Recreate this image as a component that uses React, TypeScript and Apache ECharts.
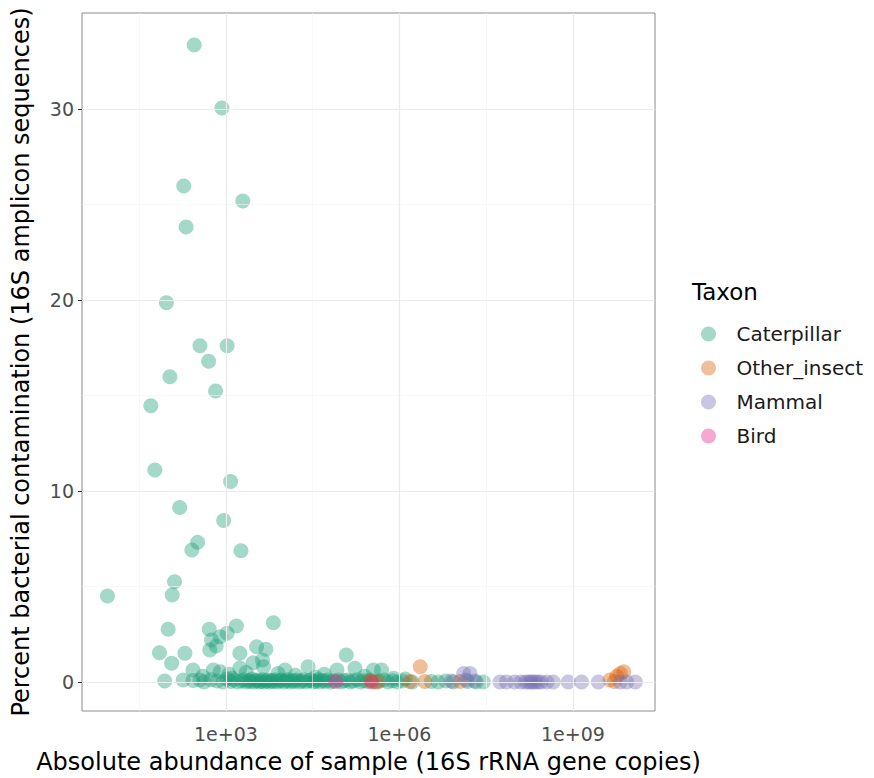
import React, { useEffect, useRef } from "react";
import * as echarts from "echarts";

// x values are log10(absolute abundance), y values are percent contamination
const caterpillarHigh: [number, number][] = [
  [2.45, 33.35], [2.93, 30.05], [2.27, 25.97], [3.29, 25.18], [2.31, 23.82],
  [1.97, 19.86], [2.55, 17.6], [3.02, 17.6], [2.7, 16.8], [2.03, 15.98],
  [2.82, 15.24], [1.7, 14.47], [1.77, 11.1], [3.08, 10.5], [2.2, 9.13],
  [2.96, 8.45], [2.51, 7.31], [2.41, 6.91], [3.26, 6.87], [2.11, 5.25],
  [2.07, 4.55], [0.95, 4.5],
];
const caterpillarMid: [number, number][] = [
  [2.0, 2.76], [2.71, 2.76], [3.18, 2.93], [3.02, 2.55], [2.9, 2.37], [3.82, 3.1],
  [1.85, 1.53], [2.29, 1.5], [2.06, 0.98], [2.72, 1.68], [2.83, 1.88], [2.75, 2.2],
  [3.24, 1.5], [3.53, 1.85], [3.69, 1.71], [3.63, 1.15], [2.43, 0.63], [2.78, 0.63],
  [2.9, 0.54], [3.24, 0.73], [3.47, 1.0], [5.08, 1.41], [4.42, 0.8], [5.23, 0.72],
  [5.55, 0.63], [5.69, 0.63], [4.92, 0.63], [4.02, 0.63], [3.65, 0.8], [2.6, 0.3],
  [3.05, 0.4], [3.9, 0.45], [4.2, 0.35], [4.7, 0.4], [5.4, 0.3], [3.35, 0.5],
  [3.1, 0.2], [4.55, 0.25], [5.9, 0.2], [6.1, 0.15],
];
const caterpillarZero: [number, number][] = [
  [1.94, 0.05], [2.26, 0.1], [2.43, 0.08], [2.55, 0.1], [2.62, 0.0], [2.74, 0.12],
  [2.85, 0.05], [2.95, 0.0], [3.01, 0.15], [3.08, 0.02], [3.14, 0.1], [3.2, 0.0],
  [3.27, 0.05], [3.31, 0.12], [3.35, 0.0], [3.39, 0.08], [3.42, 0.02], [3.45, 0.15],
  [3.49, 0.0], [3.52, 0.06], [3.55, 0.1], [3.58, 0.0], [3.61, 0.04], [3.64, 0.12],
  [3.67, 0.0], [3.7, 0.05], [3.73, 0.1], [3.76, 0.0], [3.79, 0.08], [3.82, 0.02],
  [3.86, 0.12], [3.89, 0.0], [3.92, 0.06], [3.96, 0.1], [4.0, 0.0], [4.04, 0.05],
  [4.07, 0.12], [4.11, 0.0], [4.15, 0.08], [4.18, 0.02], [4.22, 0.1], [4.27, 0.0],
  [4.31, 0.05], [4.34, 0.12], [4.38, 0.0], [4.43, 0.06], [4.47, 0.1], [4.51, 0.0],
  [4.55, 0.04], [4.59, 0.12], [4.63, 0.0], [4.67, 0.08], [4.72, 0.02], [4.76, 0.1],
  [4.81, 0.0], [4.86, 0.05], [4.94, 0.1], [4.99, 0.0], [5.04, 0.06], [5.1, 0.1],
  [5.15, 0.0], [5.2, 0.05], [5.27, 0.12], [5.33, 0.0], [5.38, 0.08], [5.45, 0.02],
  [5.5, 0.1], [5.58, 0.0], [5.65, 0.05], [5.73, 0.1], [5.8, 0.0], [5.88, 0.06],
  [5.96, 0.0], [6.05, 0.05], [6.22, 0.0], [6.55, 0.02], [6.67, 0.0], [6.8, 0.05],
  [6.93, 0.0], [7.18, 0.02], [7.33, 0.0], [7.45, 0.0],
];
const caterpillarData = [...caterpillarHigh, ...caterpillarMid, ...caterpillarZero];

const otherInsectData: [number, number][] = [
  [6.36, 0.8], [6.18, 0.02], [6.44, 0.02], [5.5, 0.05], [5.62, 0.0], [7.05, 0.02],
  [9.64, 0.1], [9.88, 0.54], [9.82, 0.45], [9.76, 0.3], [9.72, 0.02],
];
const mammalData: [number, number][] = [
  [7.11, 0.45], [7.22, 0.45], [7.3, 0.05], [7.74, 0.0], [7.85, 0.0], [7.99, 0.0],
  [8.1, 0.0], [8.18, 0.0], [8.23, 0.0], [8.27, 0.0], [8.31, 0.0], [8.35, 0.0],
  [8.4, 0.0], [8.45, 0.0], [8.55, 0.0], [8.66, 0.0], [8.92, 0.0], [9.15, 0.0],
  [9.44, 0.0], [9.82, 0.0], [9.93, 0.0], [10.08, 0.0], [6.9, 0.05], [7.15, 0.1],
];
const birdData: [number, number][] = [[4.9, 0.02], [5.52, 0.0]];

const taxa = ["Caterpillar", "Other_insect", "Mammal", "Bird"];
const taxaColors = [
  "rgba(27,158,119,0.5)",
  "rgba(217,95,2,0.5)",
  "rgba(117,112,179,0.5)",
  "rgba(231,41,138,0.5)",
];
const xMajor = [3, 6, 9];
const xMinor = [1.5, 4.5, 7.5];
const yMajor = [0, 10, 20, 30];
const yMinor = [5, 15, 25];

export default function App() {
  const ref = useRef<HTMLDivElement>(null);
  useEffect(() => {
    if (!ref.current) return;
    const chart = echarts.init(ref.current, null, { renderer: "svg" });
    const font = "DejaVu Sans, sans-serif";
    const dataSets = [caterpillarData, otherInsectData, mammalData, birdData];
    const gridLine = (v: number, axis: "xAxis" | "yAxis", major: boolean) => ({
      [axis]: v,
      lineStyle: { color: major ? "#EBEBEB" : "#F4F4F4", width: major ? 1.2 : 0.6, type: "solid" },
    });
    chart.setOption({
      animation: false,
      textStyle: { fontFamily: font },
      grid: {
        left: 82,
        right: 219,
        top: 13,
        bottom: 67,
        outerBoundsMode: "none",
        containLabel: false,
        show: true,
        borderColor: "#8c8c8c",
        borderWidth: 1,
        backgroundColor: "#fff",
      },
      legend: {
        data: taxa,
        orient: "vertical",
        left: 696,
        top: 319,
        icon: "circle",
        itemWidth: 46,
        itemHeight: 15,
        itemGap: 14,
        textStyle: { fontSize: 20, color: "#1a1a1a", fontFamily: font },
      },
      graphic: [
        {
          type: "text",
          left: 692,
          top: 280,
          style: { text: "Taxon", fontSize: 23, fill: "#000", fontFamily: font },
        },
      ],
      xAxis: {
        type: "value",
        min: 0.51,
        max: 10.42,
        name: "Absolute abundance of sample (16S rRNA gene copies)",
        nameLocation: "middle",
        nameGap: 39,
        nameTextStyle: { fontSize: 24, color: "#000", fontFamily: font },
        axisLine: { show: false },
        splitLine: { show: false },
        axisTick: {
          show: true,
          customValues: xMajor,
          length: 4,
          lineStyle: { color: "#333" },
        },
        axisLabel: {
          customValues: xMajor,
          formatter: (v: number) => "1e+" + String(Math.round(v)).padStart(2, "0"),
          fontSize: 19,
          color: "#4d4d4d",
          margin: 13,
        },
      },
      yAxis: {
        type: "value",
        min: -1.52,
        max: 35.03,
        name: "Percent bacterial contamination (16S amplicon sequences)",
        nameLocation: "middle",
        nameGap: 49,
        nameTextStyle: { fontSize: 24, color: "#000", fontFamily: font },
        axisLine: { show: false },
        splitLine: { show: false },
        axisTick: {
          show: true,
          customValues: yMajor,
          length: 4,
          lineStyle: { color: "#333" },
        },
        axisLabel: {
          customValues: yMajor,
          fontSize: 19,
          color: "#4d4d4d",
          margin: 8,
        },
      },
      series: [
        {
          type: "scatter",
          name: "grid",
          data: [],
          z: 0,
          silent: true,
          markLine: {
            silent: true,
            symbol: "none",
            label: { show: false },
            data: [
              ...xMinor.map((v) => gridLine(v, "xAxis", false)),
              ...yMinor.map((v) => gridLine(v, "yAxis", false)),
              ...xMajor.map((v) => gridLine(v, "xAxis", true)),
              ...yMajor.map((v) => gridLine(v, "yAxis", true)),
            ],
          },
        },
        ...taxa.map((name, i) => ({
          type: "scatter",
          name,
          data: dataSets[i],
          symbol: "circle",
          symbolSize: 15,
          z: 2 + i,
          itemStyle: { color: taxaColors[i], borderWidth: 0 },
          emphasis: { disabled: true },
        })),
      ],
    });
    return () => chart.dispose();
  }, []);
  return (
    <div
      ref={ref}
      style={{ position: "fixed", left: 0, top: 0, width: 874, height: 778, background: "#fff" }}
    />
  );
}
